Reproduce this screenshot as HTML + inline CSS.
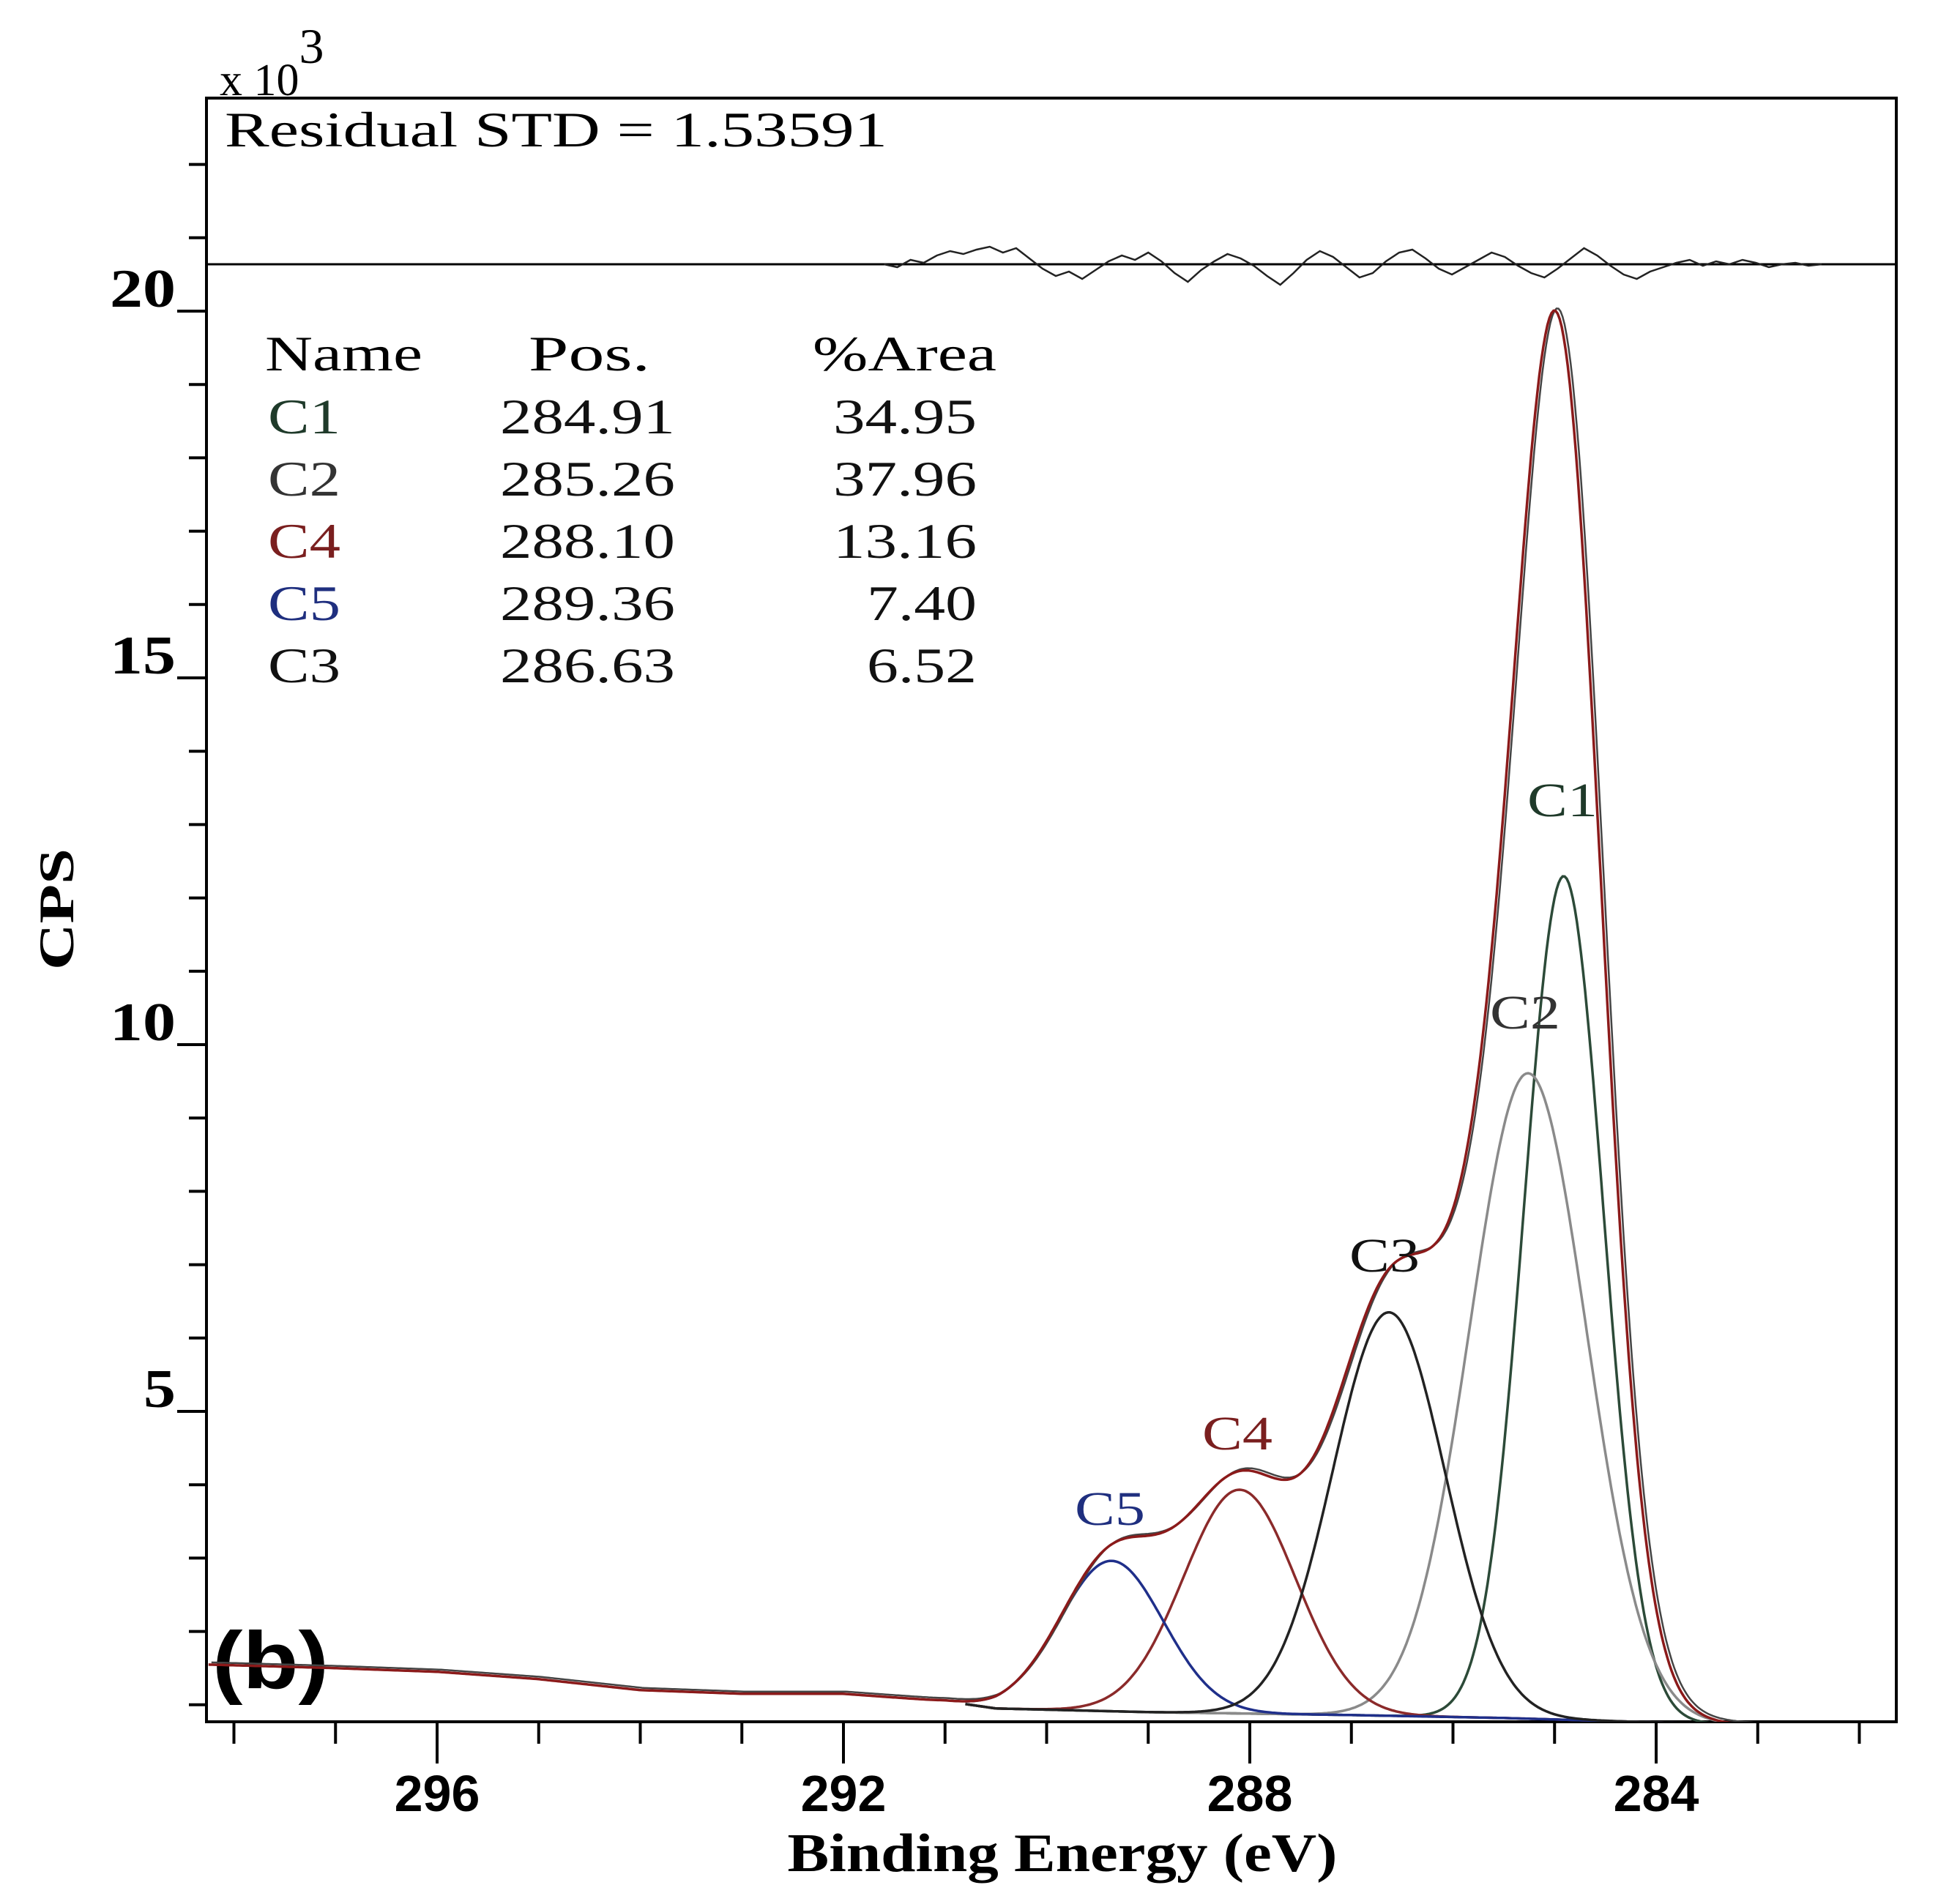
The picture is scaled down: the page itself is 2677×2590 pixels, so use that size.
<!DOCTYPE html>
<html><head><meta charset="utf-8">
<style>
html,body{margin:0;padding:0;background:#fff;}
svg{display:block;}
text{font-family:"Liberation Serif",serif;}
</style></head>
<body>
<svg id="chart" width="2677" height="2590" viewBox="0 0 2677 2590" xmlns="http://www.w3.org/2000/svg"></svg>
<script>
// ---- data ----
const peakNames = ["C1","C2","C4","C5","C3"];
const peakPos = [284.91,285.26,288.10,289.36,286.63];
const peakArea = ["34.95","37.96","13.16","7.40","6.52"];
const peakHeights = [11.5,8.8,3.05,2.05,5.5];
const peakFwhm = [0.92,1.35,1.3,1.2,1.3];
const peakColors = ["#2c4a38","#8a8a8a","#8b2a2a","#1f2f8a","#222222"];
const labelColors = ["#1f3a2a","#333333","#7a1f1f","#1f2f7f","#111111"];
const bgE = [298.3,297,296,295,294,293,292,291,290.5,289,287,285.5,284,283,281.6];
const bgV = [1.55,1.5,1.45,1.35,1.2,1.15,1.15,1.05,0.95,0.9,0.86,0.82,0.76,0.72,0.7];
const resE0 = 291.6, resStep = 0.13;
const resV = [0,-2,3,1,6,9,7,10,12,8,11,4,-3,-8,-5,-10,-4,2,6,3,8,2,-6,-12,-4,2,7,4,-1,-8,-14,-6,3,9,5,-2,-9,-6,2,8,10,4,-3,-7,-2,3,8,5,-1,-6,-9,-3,4,11,6,-1,-7,-10,-5,-2,1,3,-1,2,0,3,1,-2,0,1,-1,0];
const xTicks = [296,292,288,284];
const yTicks = [5,10,15,20];

// ---- axes ----
const X0=597, PXE=138.75, Y0=2429, PXV=100.2;
const L=282,R=2590,T=134,B=2352,RESY=361;
const xs = e => X0 + (296-e)*PXE;
const ys = v => Y0 - v*PXV;
const svg = document.getElementById('chart');
const NS="http://www.w3.org/2000/svg";
function mk(tag, attrs, parent){const el=document.createElementNS(NS,tag);for(const k in attrs)el.setAttribute(k,attrs[k]);(parent||svg).appendChild(el);return el;}
function bg(e){ if(e>=bgE[0])return bgV[0]; for(let i=0;i<bgE.length-1;i++){ if(e<=bgE[i]&&e>=bgE[i+1]){const t=(bgE[i]-e)/(bgE[i]-bgE[i+1]);return bgV[i]+t*(bgV[i+1]-bgV[i]);}} return bgV[bgV.length-1]; }
function gauss(i,e){const s=peakFwhm[i]/2.3548;return peakHeights[i]*Math.exp(-Math.pow(e-peakPos[i],2)/(2*s*s));}

// frame
let el=mk('rect',{x:L,y:T,width:R-L,height:B-T,fill:'none',stroke:'#000','stroke-width':4});

el=mk('line',{x1:L,y1:RESY,x2:R,y2:RESY,stroke:'#000','stroke-width':3});


// x ticks
for(let e=298;e>=282;e--){
  const major = xTicks.includes(e);
  el=mk('line',{x1:xs(e),y1:B,x2:xs(e),y2:B+(major?57:30),stroke:'#000','stroke-width':4});
  
}
xTicks.forEach(e=>{
  el=mk('text',{x:xs(e),y:2474,'text-anchor':'middle','font-size':70,'font-weight':'bold',style:'font-family:"Liberation Sans",sans-serif'});
  el.textContent=e;
  
});
// y ticks
for(let v=1;v<=22;v++){
  const major=yTicks.includes(v);
  el=mk('line',{x1:L-(major?40:24),y1:ys(v),x2:L,y2:ys(v),stroke:'#000','stroke-width':4});
  
}
yTicks.forEach(v=>{
  el=mk('text',{x:L-42,y:ys(v)-6,'text-anchor':'end','font-size':74,'font-weight':'bold',textLength:(v<10?44:90),lengthAdjust:'spacingAndGlyphs'});
  el.textContent=v;
  
});
el=mk('text',{x:300,y:130,'font-size':62});el.innerHTML='x 10<tspan dy="-44" font-size="68">3</tspan>';

el=mk('text',{x:1451,y:2556,'text-anchor':'middle','font-size':74,'font-weight':'bold',textLength:751,lengthAdjust:'spacingAndGlyphs'});el.textContent='Binding Energy (eV)';

el=mk('text',{x:0,y:0,'text-anchor':'middle','font-size':68,'font-weight':'bold',textLength:166,lengthAdjust:'spacingAndGlyphs',transform:'translate(100,1242) rotate(-90)'});el.textContent='CPS';

el=mk('text',{x:307,y:200,'font-size':68,textLength:905,lengthAdjust:'spacingAndGlyphs'});el.textContent='Residual STD = 1.53591';

el=mk('text',{x:290,y:2306,'font-size':110,'font-weight':'bold',textLength:159,lengthAdjust:'spacingAndGlyphs',style:'font-family:"Liberation Sans",sans-serif'});el.textContent='(b)';


// components
const clip=mk('clipPath',{id:'pc'});mk('rect',{x:L,y:T,width:R-L,height:B-T},clip);
for(let i=0;i<peakPos.length;i++){
  let d='';
  for(let e=290.8;e>=283.3;e-=0.02){d+=(d?'L':'M')+xs(e).toFixed(1)+','+ys(bg(e)+gauss(i,e)).toFixed(1);}
  el=mk('path',{d:d,fill:'none',stroke:peakColors[i],'stroke-width':3.5,'clip-path':'url(#pc)'});
  
}
// envelope + data
function total(e){let s=bg(e);for(let i=0;i<peakPos.length;i++)s+=gauss(i,e);return s;}
let d1='',d2='';
for(let e=298.25;e>=281.7;e-=0.02){
  d1+=(d1?'L':'M')+xs(e).toFixed(1)+','+ys(total(e)).toFixed(1);
  d2+=(d2?'L':'M')+(xs(e)+4).toFixed(1)+','+(ys(total(e))-3).toFixed(1);
}
el=mk('path',{d:d2,fill:'none',stroke:'#444','stroke-width':2.5,'clip-path':'url(#pc)'});

el=mk('path',{d:d1,fill:'none',stroke:'#8b1a1a','stroke-width':3.5,'clip-path':'url(#pc)'});

// residual
let dr='';
resV.forEach((v,k)=>{const e=resE0-k*resStep;dr+=(dr?'L':'M')+xs(e).toFixed(1)+','+(RESY-v*2.0).toFixed(1);});
el=mk('path',{d:dr,fill:'none',stroke:'#222','stroke-width':2.5});


// peak labels
const plX=[2134,2083,1690,1516,1891], plY=[1115,1405,1980,2083,1737];
peakNames.forEach((n,i)=>{
  el=mk('text',{x:plX[i],y:plY[i],'text-anchor':'middle','font-size':66,textLength:96,lengthAdjust:'spacingAndGlyphs',fill:labelColors[i]});el.textContent=n;
  
});
// table
const hdr=[['Name',362,215],['Pos.',722,166],['%Area',1110,251]];
hdr.forEach(h=>{el=mk('text',{x:h[1],y:506,'font-size':68,textLength:h[2],lengthAdjust:'spacingAndGlyphs'});el.textContent=h[0];
  });
peakNames.forEach((n,i)=>{
  const y=592+i*85;
  el=mk('text',{x:366,y:y,'font-size':68,textLength:99,lengthAdjust:'spacingAndGlyphs',fill:labelColors[i]});el.textContent=n;
  
  el=mk('text',{x:683,y:y,'font-size':68,textLength:239,lengthAdjust:'spacingAndGlyphs',fill:'#111'});el.textContent=peakPos[i].toFixed(2);
  
  el=mk('text',{x:1334,y:y,'font-size':68,'text-anchor':'end',textLength:(peakArea[i].length>4?196:150),lengthAdjust:'spacingAndGlyphs',fill:'#111'});el.textContent=peakArea[i];
  
});
</script>
</body></html>
